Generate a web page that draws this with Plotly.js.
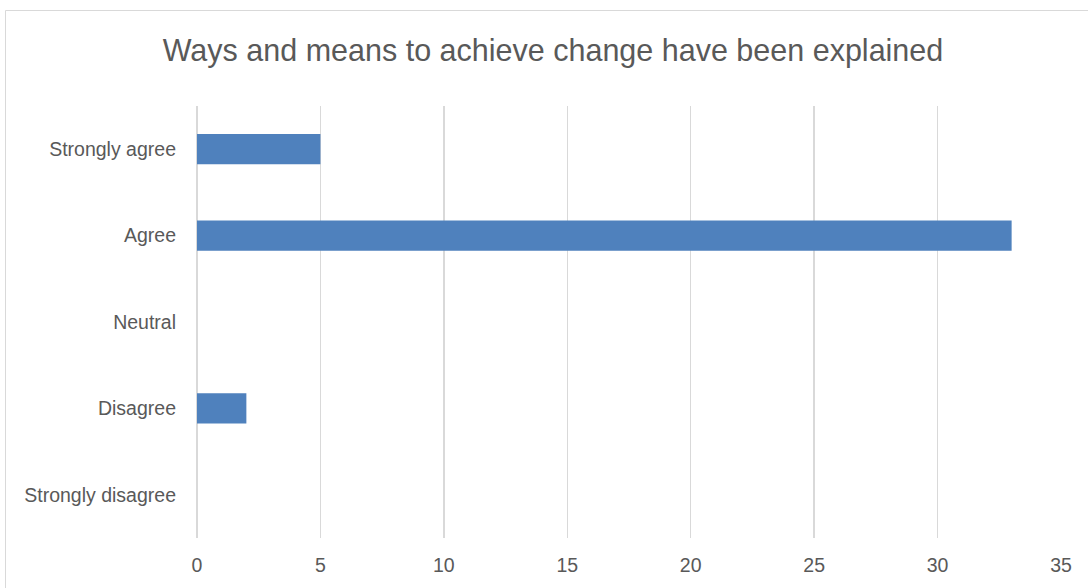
<!DOCTYPE html>
<html>
<head>
<meta charset="utf-8">
<script src="https://cdn.plot.ly/plotly-3.0.1.min.js"></script>
<style>
html,body{margin:0;padding:0;background:#fff;overflow:hidden;}
#chart{width:1088px;height:588px;}
</style>
</head>
<body>
<div id="chart"></div>
<script>
const categories = ["Strongly agree", "Agree", "Neutral", "Disagree", "Strongly disagree"];
const counts = [5, 33, 0, 2, 0];
const xTicks = [0, 5, 10, 15, 20, 25, 30, 35];
const chartTitle = "Ways and means to achieve change have been explained";

const trace = {
  type: "bar",
  orientation: "h",
  y: categories,
  x: counts,
  marker: {color: "#4F81BD", line: {width: 0}},
  hoverinfo: "x+y"
};

const axisFont = {family: "'Liberation Sans', Arial, sans-serif", size: 19.5, color: "#595959"};

const layout = {
  width: 1088,
  height: 588,
  margin: {l: 197, r: 27, t: 106, b: 50},
  paper_bgcolor: "#ffffff",
  plot_bgcolor: "#ffffff",
  showlegend: false,
  bargap: 0.65,
  title: {
    text: chartTitle,
    font: {family: "'Liberation Sans', Arial, sans-serif", size: 30.5, color: "#595959"},
    xref: "container", x: 553 / 1088, xanchor: "center",
    yref: "container", y: 1 - 50 / 588, yanchor: "middle"
  },
  xaxis: {
    range: [0, 35],
    tickvals: xTicks,
    ticktext: xTicks.map(String),
    showgrid: true,
    gridcolor: "#D9D9D9",
    gridwidth: 1.5,
    zeroline: true,
    zerolinecolor: "#D9D9D9",
    zerolinewidth: 1.5,
    showline: false,
    ticks: "",
    tickfont: axisFont,
    ticklabelstandoff: 13,
    fixedrange: true
  },
  yaxis: {
    type: "category",
    categoryorder: "array",
    categoryarray: categories,
    autorange: "reversed",
    showgrid: false,
    zeroline: false,
    showline: false,
    ticks: "",
    tickfont: axisFont,
    ticklabelstandoff: 20,
    fixedrange: true
  },
  shapes: [{
    type: "rect", xref: "paper", yref: "paper",
    x0: (5.5 - 197) / 864, x1: 1.5,
    y0: -0.5, y1: (538 - 10.5) / 432,
    line: {color: "#D9D9D9", width: 1},
    fillcolor: "rgba(0,0,0,0)",
    layer: "below"
  }]
};

Plotly.newPlot("chart", [trace], layout, {displayModeBar: false, staticPlot: true});
</script>
</body>
</html>
